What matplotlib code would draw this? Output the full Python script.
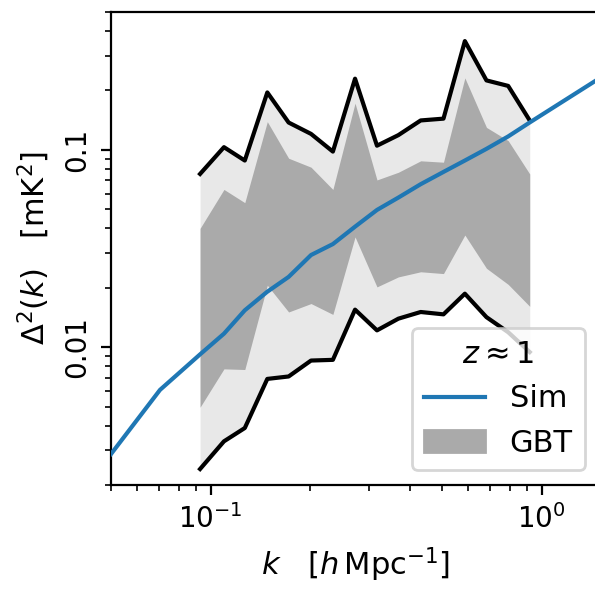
import matplotlib
matplotlib.use("Agg")
import matplotlib.pyplot as plt
from matplotlib.patches import Patch

# GBT band (k in h/Mpc, Delta^2 in mK^2)
k_gbt = [0.0929, 0.1097, 0.1268, 0.1483, 0.172, 0.201, 0.234, 0.273,
         0.318, 0.369, 0.431, 0.505, 0.586, 0.681, 0.792, 0.920]
outer_hi = [0.0755, 0.1032, 0.0883, 0.1955, 0.1376, 0.1205, 0.098, 0.2296,
            0.105, 0.1188, 0.141, 0.144, 0.356, 0.225, 0.211, 0.141]
inner_hi = [0.040, 0.063, 0.054, 0.139, 0.0907, 0.0817, 0.063, 0.1725,
            0.0704, 0.077, 0.088, 0.0866, 0.2317, 0.130, 0.1114, 0.0755]
inner_lo = [0.00496, 0.00776, 0.0077, 0.0206, 0.01507, 0.01663, 0.01465, 0.0362,
            0.0202, 0.0227, 0.0241, 0.0236, 0.0370, 0.0251, 0.0208, 0.0161]
outer_lo = [0.00241, 0.00333, 0.00389, 0.0069, 0.0071, 0.00855, 0.00862, 0.01549,
            0.01216, 0.01394, 0.01507, 0.01466, 0.01866, 0.01419, 0.0119, 0.00944]

# simulation curve
k_sim = [0.05, 0.0703, 0.0929, 0.1097, 0.1268, 0.148, 0.172, 0.201, 0.234,
         0.273, 0.318, 0.369, 0.431, 0.505, 0.586, 0.681, 0.792, 0.920, 1.6]
d_sim = [0.00287, 0.00607, 0.00919, 0.0117, 0.01537, 0.01905, 0.0227, 0.0293,
         0.0333, 0.0408, 0.0496, 0.0573, 0.067, 0.0773, 0.0883, 0.1012, 0.117,
         0.1377, 0.248]

plt.rcParams['font.size'] = 10

fig = plt.figure(figsize=(595 / 200, 591 / 200), dpi=200)
ax = fig.add_axes([111 / 595, (591 - 485) / 591, (600 - 111) / 595, (485 - 12) / 591])

ax.fill_between(k_gbt, outer_lo, outer_hi, color='#e8e8e8', lw=0, zorder=1)
ax.fill_between(k_gbt, inner_lo, inner_hi, color='#aaaaaa', lw=0, zorder=2)
ax.plot(k_gbt, outer_hi, color='k', lw=1.5, zorder=3)
ax.plot(k_gbt, outer_lo, color='k', lw=1.5, zorder=3)
ax.plot(k_sim, d_sim, color='#1f77b4', lw=1.5, zorder=4)

ax.set_xscale('log')
ax.set_yscale('log')
ax.set_xlim(0.05, 1.5)
ax.set_ylim(0.002, 0.5)
ax.set_yticks([0.01, 0.1])
ax.set_yticklabels(['0.01', '0.1'], rotation=90, va='center')

ax.set_xlabel(r'$k$   [$h\,$Mpc$^{-1}$]', fontsize=11)
ax.set_ylabel(r'$\Delta^2(k)$   [mK$^2$]', fontsize=11)

handles = [plt.Line2D([], [], color='#1f77b4', lw=1.5), Patch(color='#aaaaaa')]
ax.legend(handles, ['Sim', 'GBT'], title=r'$z \approx 1$', loc='lower right',
          fontsize=11, title_fontsize=11, borderaxespad=0,
          bbox_to_anchor=(0.969, 0.032))

fig.savefig('out.png', dpi=200)
